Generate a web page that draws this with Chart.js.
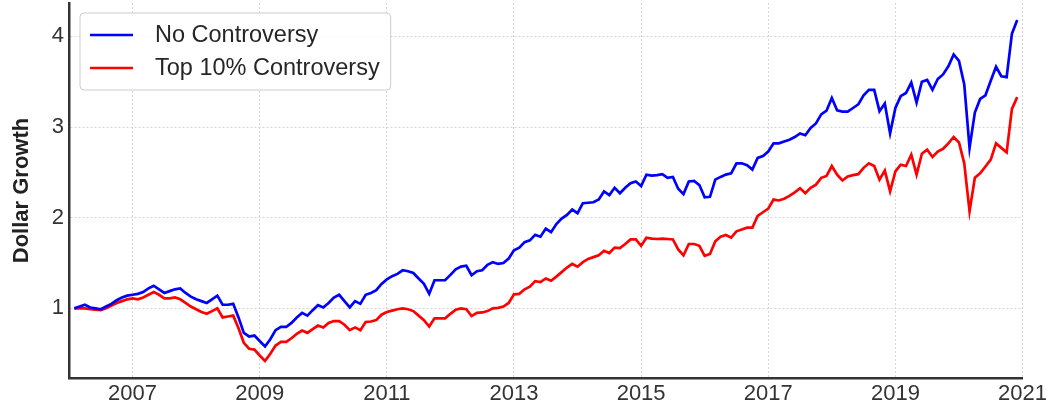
<!DOCTYPE html>
<html>
<head>
<meta charset="utf-8">
<script src="https://cdn.jsdelivr.net/npm/chart.js@4.4.0/dist/chart.umd.min.js"></script>
<style>
  html, body { margin: 0; padding: 0; background: #fff; }
</style>
</head>
<body>
<canvas id="growthChart" width="1050" height="407"></canvas>
<script>
// monthly dollar growth, Feb 2006 .. Dec 2020
const seriesNames = ['No Controversy', 'Top 10% Controversy'];
const seriesColors = ['#0000ff', '#ff0000'];

const noControversy = [
  1.00, 1.02, 1.04, 1.01, 1.00, 0.99, 1.02, 1.05, 1.09, 1.12, 1.14, 1.15,
  1.16, 1.18, 1.22, 1.25, 1.21, 1.17, 1.19, 1.21, 1.22, 1.17, 1.13, 1.10,
  1.08, 1.06, 1.10, 1.14, 1.04, 1.04, 1.05, 0.90, 0.73, 0.69, 0.70, 0.64,
  0.58, 0.66, 0.76, 0.795, 0.795, 0.84, 0.90, 0.95, 0.92, 0.98, 1.035, 1.01,
  1.06, 1.12, 1.15, 1.08, 1.01, 1.08, 1.05, 1.15, 1.17, 1.20, 1.27, 1.32,
  1.355, 1.38, 1.42, 1.41, 1.39, 1.33, 1.27, 1.16, 1.31, 1.31, 1.31, 1.37,
  1.43, 1.46, 1.47, 1.365, 1.41, 1.42, 1.48, 1.51, 1.49, 1.50, 1.55, 1.64,
  1.67, 1.73, 1.75, 1.81, 1.79, 1.88, 1.84, 1.93, 1.99, 2.03, 2.09, 2.05,
  2.16, 2.165, 2.17, 2.20, 2.29, 2.25, 2.33, 2.27, 2.33, 2.38, 2.40, 2.35,
  2.475, 2.465, 2.47, 2.48, 2.44, 2.45, 2.32, 2.26, 2.40, 2.405, 2.36, 2.225,
  2.23, 2.42, 2.45, 2.475, 2.49, 2.60, 2.60, 2.58, 2.53, 2.66, 2.68, 2.73,
  2.82, 2.82, 2.84, 2.86, 2.89, 2.93, 2.91, 2.99, 3.04, 3.14, 3.18, 3.32,
  3.185, 3.17, 3.17, 3.21, 3.25, 3.35, 3.41, 3.41, 3.175, 3.26, 2.93, 3.21,
  3.34, 3.375, 3.49, 3.27, 3.50, 3.52, 3.41, 3.53, 3.58, 3.67, 3.80, 3.73,
  3.47, 2.77, 3.16, 3.31, 3.35, 3.51, 3.665, 3.56, 3.55, 4.03, 4.18
];

const topControversy = [
  1.00, 1.00, 1.00, 0.99, 0.985, 0.98, 1.00, 1.03, 1.06, 1.08, 1.10, 1.11,
  1.10, 1.12, 1.15, 1.18, 1.15, 1.11, 1.11, 1.12, 1.10, 1.06, 1.02, 0.99,
  0.96, 0.94, 0.97, 1.00, 0.90, 0.91, 0.92, 0.78, 0.62, 0.555, 0.545, 0.48,
  0.42, 0.50, 0.59, 0.63, 0.63, 0.67, 0.72, 0.755, 0.73, 0.77, 0.81, 0.79,
  0.84, 0.86, 0.86, 0.82, 0.76, 0.79, 0.76, 0.85, 0.855, 0.87, 0.93, 0.96,
  0.975, 0.99, 1.00, 0.99, 0.97, 0.92, 0.87, 0.80, 0.89, 0.89, 0.89, 0.94,
  0.985, 1.00, 0.99, 0.915, 0.95, 0.955, 0.97, 1.00, 1.005, 1.02, 1.06, 1.155,
  1.16, 1.21, 1.24, 1.30, 1.29, 1.33, 1.305, 1.35, 1.40, 1.45, 1.49, 1.46,
  1.51, 1.545, 1.565, 1.585, 1.635, 1.61, 1.67, 1.665, 1.71, 1.76, 1.76, 1.69,
  1.78, 1.77, 1.765, 1.77, 1.765, 1.76, 1.65, 1.585, 1.71, 1.71, 1.69, 1.58,
  1.60, 1.74, 1.79, 1.81, 1.78, 1.85, 1.87, 1.89, 1.89, 2.02, 2.06, 2.10,
  2.20, 2.19, 2.21, 2.24, 2.28, 2.325, 2.27, 2.33, 2.365, 2.44, 2.46, 2.57,
  2.475, 2.41, 2.455, 2.47, 2.48, 2.55, 2.60, 2.57, 2.42, 2.52, 2.29, 2.51,
  2.585, 2.57, 2.695, 2.475, 2.705, 2.75, 2.67, 2.73, 2.76, 2.82, 2.89, 2.83,
  2.60, 2.07, 2.44, 2.49, 2.565, 2.64, 2.82, 2.77, 2.72, 3.20, 3.33
];

const yearTicks = [2007, 2009, 2011, 2013, 2015, 2017, 2019, 2021];
const growthTicks = [1, 2, 3, 4];

// x positions: months after Jan 2006, as fractional years
const months = noControversy.map((_, i) => 2006 + (i + 1) / 12);

const FONT = '"Liberation Sans", Arial, sans-serif';

const legendBox = {
  id: 'legendBox',
  afterDraw(chart) {
    const { ctx, chartArea } = chart;
    const x0 = chartArea.left + 11, y0 = chartArea.top + 10;
    ctx.save();
    ctx.font = '23.5px ' + FONT;
    const textW = Math.max(...chart.data.datasets.map(d => ctx.measureText(d.label).width));
    const w = 75 + textW + 11, h = 77;
    ctx.beginPath();
    ctx.roundRect(x0, y0, w, h, 4);
    ctx.fillStyle = 'rgba(255,255,255,0.85)';
    ctx.fill();
    ctx.strokeStyle = '#cccccc';
    ctx.lineWidth = 1;
    ctx.stroke();
    chart.data.datasets.forEach((d, i) => {
      const cy = y0 + 22 + i * 33;
      ctx.beginPath();
      ctx.moveTo(x0 + 10, cy);
      ctx.lineTo(x0 + 53, cy);
      ctx.strokeStyle = d.borderColor;
      ctx.lineWidth = 2.7;
      ctx.stroke();
      ctx.fillStyle = '#262626';
      ctx.textBaseline = 'middle';
      ctx.fillText(d.label, x0 + 75, cy + 1);
    });
    ctx.restore();
  }
};

const ctx = document.getElementById('growthChart').getContext('2d');
const growthChart = new Chart(ctx, {
  type: 'line',
  data: {
    datasets: [
      { label: seriesNames[0], data: noControversy.map((v, i) => ({ x: months[i], y: v })),
        borderColor: seriesColors[0] },
      { label: seriesNames[1], data: topControversy.map((v, i) => ({ x: months[i], y: v })),
        borderColor: seriesColors[1] }
    ]
  },
  options: {
    responsive: false,
    animation: false,
    devicePixelRatio: 1,
    layout: { padding: { left: 0, right: 27, top: 3, bottom: 0 } },
    elements: {
      point: { radius: 0 },
      line: { borderWidth: 2.7, tension: 0, fill: false }
    },
    plugins: {
      legend: { display: false },
      tooltip: { enabled: false }
    },
    scales: {
      x: {
        type: 'linear',
        min: 2006,
        max: 2021,
        afterBuildTicks: s => { s.ticks = yearTicks.map(v => ({ value: v })); },
        afterFit: s => { s.height = 29; },
        ticks: {
          font: { family: FONT, size: 22 },
          color: '#333',
          padding: 3,
          maxRotation: 0,
          autoSkip: false,
          callback: v => String(v)
        },
        grid: { color: '#d4d4d4', lineWidth: 1, drawTicks: false },
        border: { color: '#333', width: 2.5, dash: [2, 2] }
      },
      y: {
        min: 0.232,
        max: 4.368,
        afterBuildTicks: s => { s.ticks = growthTicks.map(v => ({ value: v })); },
        afterFit: s => { s.width = 69; s.paddingTop = 0; s.paddingBottom = 0; },
        ticks: {
          font: { family: FONT, size: 22 },
          color: '#333',
          padding: 5,
          callback: v => String(v)
        },
        grid: { color: '#d4d4d4', lineWidth: 1, drawTicks: false },
        border: { color: '#333', width: 2.5, dash: [2, 2] },
        title: {
          display: true,
          text: 'Dollar Growth',
          color: '#222',
          font: { family: FONT, size: 22, weight: 'bold' },
          padding: { top: 9, bottom: 0 }
        }
      }
    }
  },
  plugins: [legendBox]
});
</script>
</body>
</html>
